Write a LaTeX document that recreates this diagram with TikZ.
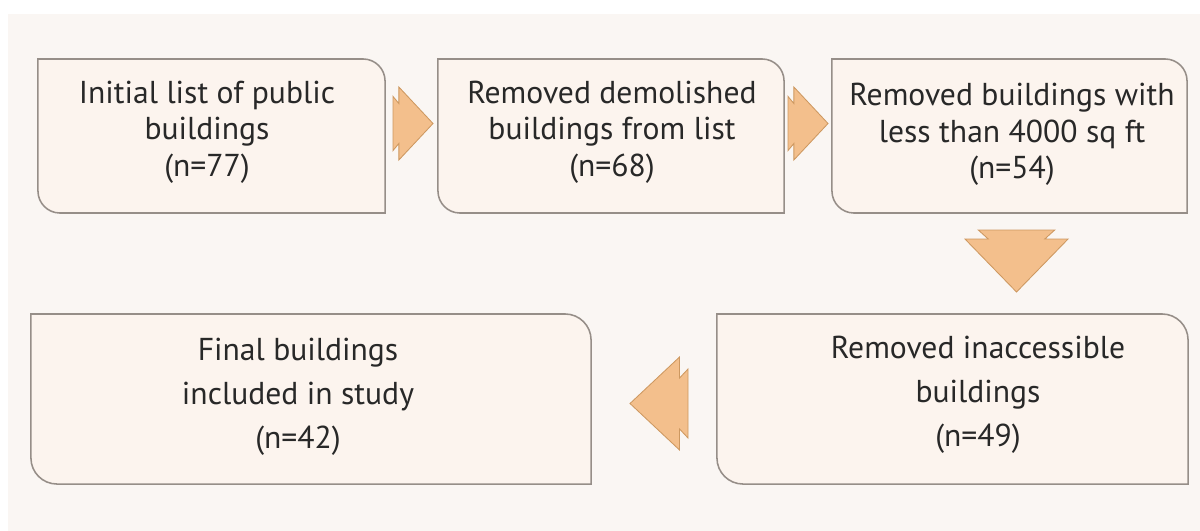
\documentclass[tikz,border=0pt]{standalone}
\usepackage{fontspec}
\setmainfont{PT Sans}
\usetikzlibrary{calc}
\definecolor{bgc}{RGB}{250,246,243}
\definecolor{boxfill}{RGB}{252,244,238}
\definecolor{boxline}{RGB}{150,142,136}
\definecolor{arrfill}{RGB}{243,191,140}
\definecolor{arrline}{RGB}{205,152,96}
\definecolor{txt}{RGB}{40,40,40}
\newcommand\roundbox[2]{%
  \filldraw[boxdraw] (#1.north west) -- ([xshift=-#2]#1.north east)
    arc[start angle=90,end angle=0,radius=#2] -- (#1.south east)
    -- ([xshift=#2]#1.south west) arc[start angle=270,end angle=180,radius=#2] -- cycle;}
\newcommand\blockarr[4]{%
  \begin{scope}[shift={#1}, rotate=#2, xscale=#3, yscale=#4]
    \filldraw[arrowdraw] (-0.5,0.371) -- (-0.354,0.274) -- (-0.354,0.5) -- (0.5,0)
      -- (-0.354,-0.5) -- (-0.354,-0.274) -- (-0.5,-0.371) -- cycle;
  \end{scope}}
\begin{document}
\begin{tikzpicture}[x=0.025cm,y=0.025cm,
  frame/.style={rectangle, inner sep=0pt, outer sep=0pt},
  boxdraw/.style={fill=boxfill, draw=boxline, line width=1.1pt},
  arrowdraw/.style={fill=arrfill, draw=arrline, line width=0.6pt, line join=miter},
  toptext/.style={align=center, text=txt, font=\fontsize{22.5}{26}\selectfont, inner sep=0pt},
  bottext/.style={align=center, text=txt, font=\fontsize{22.5}{31.3}\selectfont, inner sep=0pt}]
\useasboundingbox (0,0) rectangle (1200,-531);
\fill[white] (0,0) rectangle (1200,-531);
\fill[bgc] (8,-14) rectangle (1200,-531);
% boxes
\node[frame, minimum width=8.675cm, minimum height=3.85cm] (b1) at (211.5,-136) {};
\node[frame, minimum width=8.65cm, minimum height=3.85cm] (b2) at (611,-136) {};
\node[frame, minimum width=8.875cm, minimum height=3.85cm] (b3) at (1009.5,-136) {};
\node[frame, minimum width=11.775cm, minimum height=4.25cm] (b4) at (952.5,-399) {};
\node[frame, minimum width=14cm, minimum height=4.25cm] (b5) at (311,-399) {};
\roundbox{b1}{0.55cm}
\roundbox{b2}{0.55cm}
\roundbox{b3}{0.55cm}
\roundbox{b4}{0.65cm}
\roundbox{b5}{0.65cm}
% texts
\node[toptext] (t1) at (207,-132) {Initial list of public\\buildings\\(n=77)};
\node[toptext] (t2) at (612,-132) {Removed demolished\\buildings from list\\(n=68)};
\node[toptext] (t3) at (1012,-134.5) {Removed buildings with\\less than 4000 sq ft\\(n=54)};
\node[bottext] (t4) at (978,-395) {Removed inaccessible\\buildings\\(n=49)};
\node[bottext] (t5) at (298,-397) {Final buildings\\included in study\\(n=42)};
% block arrows
\blockarr{($(b1.east)!0.5!(b2.west)+(1.5,12.5)$)}{0}{40}{73}
\blockarr{($(b2.east)!0.5!(b3.west)+(0,12.5)$)}{0}{40}{73}
\blockarr{($(b3.south)!0.5!(b3.south|-b4.north)+(7,2.5)$)}{-90}{62}{103}
\blockarr{($(b5.east)!0.5!(b4.west)+(5,-4.5)$)}{180}{58}{93}
\end{tikzpicture}
\end{document}
